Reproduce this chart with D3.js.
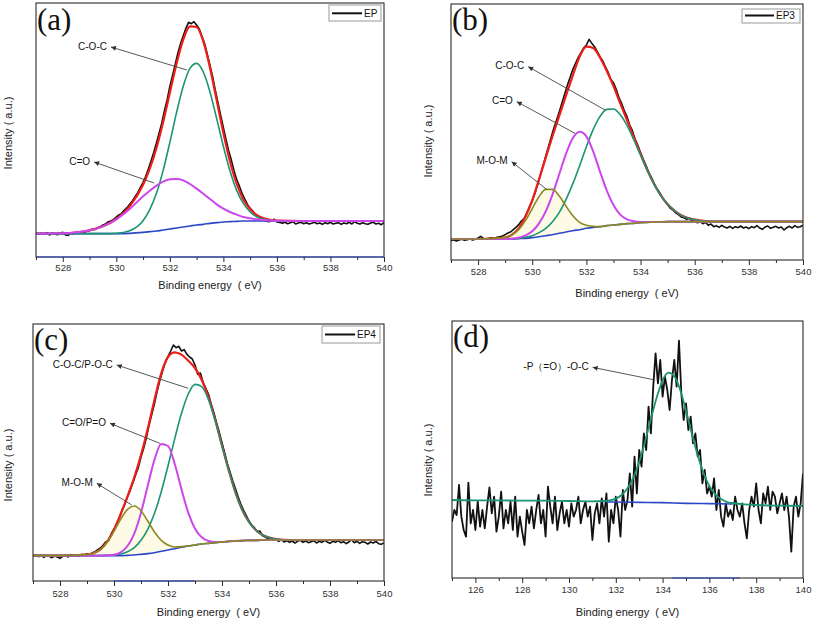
<!DOCTYPE html>
<html><head><meta charset="utf-8">
<script src="https://cdn.jsdelivr.net/npm/d3@7"></script>
<style>
body{margin:0;background:#fff}
svg{display:block}
text{font-family:Arial,"Liberation Sans",Helvetica,sans-serif}
text.letter{font-family:"Liberation Serif","Times New Roman",Times,serif}
</style>
</head><body>
<svg id="chart" width="813" height="619"></svg>
<script>
// ---------------- DATA ----------------
// tick values / labels
const oTicksMajor = [528,530,532,534,536,538,540];
const oTicksMinor = [527,529,531,533,535,537,539];
const pTicksMajor = [126,128,130,132,134,136,138,140];
const pTicksMinor = [125,127,129,131,133,135,137,139];

// Panel (a) EP : O1s fitted curves
const aFitE = [527,528,529,529.5,530,530.5,531,531.25,531.5,531.75,532,532.25,532.5,532.75,533,533.25,533.5,533.75,534,534.25,534.5,534.75,535,535.5,536,537,538,539,540];
const aEnv  = [70,71,80,92,114,152,217,265,327,405,493,580,652,692,690,647,568,470,372,286,219,172,143,116,109,108,108,108,108];
const aCOC  = [70,70,70,70,71,79,109,142,191,260,344,433,512,566,581,555,495,415,332,257,199,160,135,113,108,108,108,108,108];
const aCO   = [70,71,80,92,113,144,182,199,214,226,233,234,230,219,205,190,174,158,145,135,127,120,116,111,109,108,108,108,108];
const aBg   = [70,70,70,70,70,71,74,76,78,81,84,87,90,93,96,98,101,103,105,106,107,108,108,108,108,108,108,108,108];
const aRawStart = 527, aRawStep = 0.1;
const aRaw = [72,68,71,69,73,66,72,70,67,71, 74,66,65,71,69,74,72,76,73,78, 79,84,82,88,91,96,99,106,108,113,
  120,126,131,141,148,158,168,181,193,209, 224,242,265,289,314,342,372,402,440,472, 512,545,578,612,640,664,686,704,700,706,
  696,684,662,640,608,575,540,500,462,425, 388,352,318,290,258,232,212,190,174,158, 146,138,127,122,116,111,108,106,110,113,
  105,104,101,104,100,103,106,99,102,104, 100,103,99,101,104,100,102,98,103,100, 104,99,101,103,98,102,100,104,99,106,
  101,99,103,100,98,102,104,99,101,97, 103];
const aAnnLabels = ["C-O-C","C=O"];
const aAnnFrom = [[532.64,561],[531.41,222]];
const aAnnTo   = [[529.8,630],[529.17,285]];

// Panel (b) EP3
const bFitE = [527,528,529,529.25,529.5,529.75,530,530.25,530.5,530.75,531,531.25,531.5,531.75,532,532.25,532.5,532.75,533,533.25,533.5,533.75,534,534.25,534.5,534.75,535,535.25,535.5,535.75,536,536.5,537,538,539,540];
const bEnv = [63,63,67,76,95,130,179,242,307,372,433,494,554,610,640,636,608,568,522,470,420,369,318,270,228,194,167,148,134,126,121,116,115,115,115,115];
const bCOC = [63,63,63,64,65,68,73,82,95,115,143,182,229,283,340,391,430,452,453,436,404,361,315,269,228,193,167,148,134,126,121,116,115,115,115,115];
const bCO  = [63,63,63,64,67,74,86,110,146,197,258,319,366,385,371,326,266,209,165,136,122,116,114,114,114,114,115,115,115,115,115,115,115,115,115,115];
const bMOM = [63,63,67,75,91,118,154,190,212,212,192,161,133,113,104,101,100,103,105,107,109,110,112,113,114,114,115,115,115,115,115,115,115,115,115,115];
const bBg  = [63,63,63,63,64,65,67,70,73,76,80,84,88,91,95,98,100,103,105,107,109,110,112,113,114,114,115,115,115,115,115,115,115,115,115,115];
const bRawStart = 527, bRawStep = 0.1;
const bRaw = [58,61,57,60,62,59,61,63,60,62, 66,71,64,62,65,67,64,68,70,72, 76,81,84,91,98,106,117,124,141,160,
  178,200,226,254,283,312,340,368,396,420, 445,472,498,525,548,572,590,608,622,636, 645,662,650,640,626,610,598,580,564,542,
  532,512,488,470,448,430,405,388,362,344, 322,302,284,263,248,230,214,203,188,176, 166,155,150,141,136,129,127,122,125,118,
  116,112,115,109,113,104,108,100,103,98, 104,99,96,101,95,100,97,102,96,99, 94,100,97,103,96,92,99,102,95,98,
  101,96,99,90,97,101,96,103,98,100, 104];
const bAnnLabels = ["C-O-C","C=O","M-O-M"];
const bAnnFrom = [[532.69,450],[531.58,380],[530.53,212]];
const bAnnTo   = [[529.85,580],[529.43,475],[529.24,295]];

// Panel (c) EP4
const cFitE = [527,528,529,529.25,529.5,529.75,530,530.25,530.5,530.75,531,531.25,531.5,531.75,532,532.25,532.5,532.75,533,533.25,533.5,533.75,534,534.25,534.5,534.75,535,535.25,535.5,535.75,536,536.5,537,538,539,540];
const cEnv = [76,76,79,84,95,118,154,201,254,311,378,457,544,623,672,686,679,661,639,603,551,483,406,332,265,213,177,153,138,130,126,123,123,123,123,123];
const cCOC = [76,76,76,76,76,77,78,81,88,100,122,155,203,268,345,427,503,561,590,583,544,481,406,332,265,213,177,153,138,130,126,123,123,123,123,123];
const cCO  = [76,76,76,76,76,77,79,86,105,142,205,286,364,411,405,351,275,205,157,131,120,117,117,119,120,121,122,122,123,123,123,123,123,123,123,123];
const cMOM = [76,76,79,84,95,117,149,186,215,225,211,180,147,122,108,102,103,105,108,111,113,115,117,119,120,121,122,122,123,123,123,123,123,123,123,123];
const cBg  = [76,76,76,76,76,76,76,76,77,78,80,82,85,89,93,97,101,105,108,111,113,115,117,119,120,121,122,122,123,123,123,123,123,123,123,123];
const cRawStart = 527, cRawStep = 0.1;
const cRaw = [75,78,73,77,71,76,74,70,75,72, 68,74,77,72,79,75,78,74,80,78, 82,79,85,88,94,99,108,118,121,142,
  156,172,190,214,230,252,272,295,318,340, 372,398,430,468,500,532,570,602,630,656, 674,690,708,700,704,690,694,680,672,666,
  648,620,624,596,578,560,530,505,474,446, 415,384,352,326,300,276,252,230,212,196, 180,168,160,148,150,136,132,127,130,122,
  125,119,124,117,121,116,120,114,119,122, 116,120,115,118,121,114,119,116,122,117, 113,119,116,121,115,118,112,117,124,115,
  119,113,118,116,111,117,114,119,112,110, 115];
const cAnnLabels = ["C-O-C/P-O-C","C=O/P=O","M-O-M"];
const cAnnFrom = [[532.75,578],[531.7,413],[530.66,228]];
const cAnnTo   = [[530.1,648],[529.85,473],[529.36,293]];

// Panel (d) P2p
const dFitE = [125,126,127,128,129,130,131,131.5,131.75,132,132.25,132.5,132.75,133,133.25,133.5,133.75,134,134.25,134.5,134.75,135,135.25,135.5,135.75,136,136.25,136.5,136.75,137,137.5,138,139,140];
const dFit  = [234,233,233,232,232,231,230,231,233,238,249,269,301,348,409,477,542,593,616,605,565,502,433,368,315,276,251,237,228,225,221,219,217,216];
const dBgE  = [131.6,132,133,134,135,136,137];
const dBg   = [228,228,227,226,224,223,222];
const dRawStart = 125, dRawStep = 0.1;
const dRaw = [169,204,189,279,184,144,124,286,164,204, 144,229,154,204,149,214,272,194,244,139,
  184,259,149,204,164,229,144,244,124,184, 139,99,204,164,214,149,204,249,164,204,
  124,274,214,164,244,144,194,229,164,204, 154,224,184,204,244,164,204,229,184,214,
  114,194,224,164,239,184,254,109,204,164, 244,204,124,264,204,234,314,214,364,254,
  384,334,434,384,514,434,574,674,584,654, 544,604,564,504,594,654,574,712,554,474,
  524,444,484,404,434,364,384,284,324,254, 274,244,299,204,264,184,154,224,184,204,
  174,244,204,184,224,164,119,204,244,214, 284,204,164,254,224,274,204,259,244,194,
  224,254,204,244,184,79,214,244,184,224, 314];
const dAnnLabels = ["-P\uFF08=O\uFF09-O-C"];
const dAnnFrom = [[133.68,594]];
const dAnnTo   = [[131.01,632]];

// ---------------- STYLE ----------------
const RED = "#ef1d18", GREEN = "#1a9474", MAG = "#cc46ec", BLUE = "#2c47c6", OLIVE = "#8a8a20", RAW = "#111";

const zip = (xs, ys) => xs.map((x, i) => [x, ys[i]]);
const rawPts = (start, step, ys) => ys.map((v, i) => [start + i * step, v]);

const panels = [
  {frame:{l:36,t:3,r:384,b:257}, xDom:[527,540], yDom:[0,762], major:oTicksMajor, minor:oTicksMinor,
   letter:"(a)", letterPos:[37,30], ylab:[12,133], xlabDy:32, tickDy:16,
   legend:{label:"EP", box:[329,5,381,21], line:[332,362,13.3], tx:364},
   curves:[{d:zip(aFitE,aEnv),c:RED,w:2.2},{d:zip(aFitE,aBg),c:BLUE,w:1.6},{d:zip(aFitE,aCOC),c:GREEN,w:1.6},{d:zip(aFitE,aCO),c:MAG,w:2}],
   raw:rawPts(aRawStart,aRawStep,aRaw), ann:{l:aAnnLabels,f:aAnnFrom,t:aAnnTo}, axisBlue:[527,540]},
  {frame:{l:451,t:4,r:803,b:260}, xDom:[527,540], yDom:[0,768], major:oTicksMajor, minor:oTicksMinor,
   letter:"(b)", letterPos:[452,30], ylab:[432,141], xlabDy:37, tickDy:17,
   legend:{label:"EP3", box:[742,9,800,23], line:[745,774,15.5], tx:776},
   curves:[{d:zip(bFitE,bEnv),c:RED,w:2.2},{d:zip(bFitE,bBg),c:BLUE,w:1.6},{d:zip(bFitE,bCOC),c:GREEN,w:1.6},{d:zip(bFitE,bCO),c:MAG,w:2},{d:zip(bFitE,bMOM),c:OLIVE,w:1.6,fill:zip(bFitE,bBg)}],
   raw:rawPts(bRawStart,bRawStep,bRaw), ann:{l:bAnnLabels,f:bAnnFrom,t:bAnnTo}, axisBlue:null},
  {frame:{l:33,t:324,r:384,b:581}, xDom:[527,540], yDom:[0,771], major:oTicksMajor, minor:oTicksMinor,
   letter:"(c)", letterPos:[34,350], ylab:[12,465], xlabDy:35, tickDy:18,
   legend:{label:"EP4", box:[322,326,380,343], line:[325,355,334.5], tx:357},
   curves:[{d:zip(cFitE,cEnv),c:RED,w:2.2},{d:zip(cFitE,cBg),c:BLUE,w:1.6},{d:zip(cFitE,cCOC),c:GREEN,w:1.6},{d:zip(cFitE,cCO),c:MAG,w:2},{d:zip(cFitE,cMOM),c:OLIVE,w:1.6,fill:zip(cFitE,cBg)}],
   raw:rawPts(cRawStart,cRawStep,cRaw), ann:{l:cAnnLabels,f:cAnnFrom,t:cAnnTo}, axisBlue:[530,533]},
  {frame:{l:452,t:321,r:803,b:578}, xDom:[125,140], yDom:[0,771], major:pTicksMajor, minor:pTicksMinor,
   letter:"(d)", letterPos:[453,347], ylab:[432,460], xlabDy:38, tickDy:17,
   legend:null,
   curves:[{d:zip(dBgE,dBg),c:BLUE,w:1.6},{d:zip(dFitE,dFit),c:GREEN,w:1.8}],
   raw:rawPts(dRawStart,dRawStep,dRaw), rawW:1.8, ann:{l:dAnnLabels,f:dAnnFrom,t:dAnnTo}, axisBlue:[134.4,137.3]}
];

// ---------------- DRAW ----------------
const svg = d3.select("#chart");
const defs = svg.append("defs");
defs.append("marker").attr("id","ah").attr("viewBox","0 0 10 10")
  .attr("refX",10).attr("refY",5).attr("markerWidth",8).attr("markerHeight",5)
  .attr("markerUnits","userSpaceOnUse").attr("orient","auto")
  .append("path").attr("d","M0,0 L10,5 L0,10 Z").attr("fill","#333");

panels.forEach((p, i) => {
  const f = p.frame;
  const x = d3.scaleLinear().domain(p.xDom).range([f.l, f.r]);
  const y = d3.scaleLinear().domain(p.yDom).range([f.b, f.t]);
  const g = svg.append("g");
  const cid = "clip" + i;
  defs.append("clipPath").attr("id", cid).append("rect")
    .attr("x", f.l).attr("y", f.t).attr("width", f.r - f.l).attr("height", f.b - f.t);
  const plot = g.append("g").attr("clip-path", `url(#${cid})`);

  const line = d3.line().x(d => x(d[0])).y(d => y(d[1]));
  const smooth = d3.line().x(d => x(d[0])).y(d => y(d[1])).curve(d3.curveMonotoneX);

  // pale fill under the olive component
  p.curves.filter(c => c.fill).forEach(c => {
    const area = d3.area().x(d => x(d[0])).y0((d, k) => y(c.fill[k][1])).y1(d => y(d[1])).curve(d3.curveMonotoneX);
    plot.append("path").datum(c.d).attr("d", area).attr("fill", "#fbf6d2").attr("opacity", 0.55);
  });

  // raw spectrum
  plot.append("path").datum(p.raw).attr("d", line)
    .attr("fill","none").attr("stroke",RAW).attr("stroke-width",p.rawW || 1.6).attr("stroke-linejoin","round");

  // fitted curves
  p.curves.forEach(c => {
    plot.append("path").datum(c.d).attr("d", smooth)
      .attr("fill","none").attr("stroke",c.c).attr("stroke-width",c.w);
  });

  // frame
  g.append("rect").attr("x", f.l).attr("y", f.t).attr("width", f.r - f.l).attr("height", f.b - f.t)
    .attr("fill","none").attr("stroke","#2a2a2a").attr("stroke-width",1.1);
  if (p.axisBlue) {
    g.append("line").attr("x1", x(p.axisBlue[0])).attr("x2", x(p.axisBlue[1]))
      .attr("y1", f.b).attr("y2", f.b).attr("stroke", BLUE).attr("stroke-width", 1.1);
  }

  // axes
  const axMaj = d3.axisBottom(x).tickValues(p.major).tickSize(5).tickSizeOuter(0).tickFormat(d3.format("d"));
  const axMin = d3.axisBottom(x).tickValues(p.minor).tickSize(3).tickSizeOuter(0).tickFormat("");
  [axMin, axMaj].forEach(ax => {
    const a = g.append("g").attr("transform", `translate(0,${f.b})`).call(ax);
    a.select(".domain").remove();
    a.selectAll(".tick line").attr("stroke","#2a2a2a");
    a.selectAll(".tick text").attr("fill","#333").attr("font-size","9.5px").attr("y", p.tickDy - 9).attr("dy","0.71em");
  });

  // axis titles
  g.append("text").attr("x", (f.l + f.r) / 2).attr("y", f.b + p.xlabDy)
    .attr("text-anchor","middle").attr("font-size","11px").attr("fill","#222")
    .style("white-space","pre").text("Binding energy  ( eV)");
  g.append("text").attr("transform", `translate(${p.ylab[0]},${p.ylab[1]}) rotate(-90)`)
    .attr("text-anchor","middle").attr("font-size","11px").attr("fill","#222")
    .style("white-space","pre").text("Intensity ( a.u.)");

  // panel letter
  g.append("text").attr("class","letter").attr("x", p.letterPos[0]).attr("y", p.letterPos[1])
    .attr("font-size","31px").attr("fill","#111").text(p.letter);

  // legend
  if (p.legend) {
    const L = p.legend;
    g.append("rect").attr("x", L.box[0]).attr("y", L.box[1]).attr("width", L.box[2]-L.box[0]).attr("height", L.box[3]-L.box[1])
      .attr("fill","#fff").attr("stroke","#9a9a9a").attr("stroke-width",1);
    g.append("line").attr("x1", L.line[0]).attr("x2", L.line[1]).attr("y1", L.line[2]).attr("y2", L.line[2])
      .attr("stroke","#111").attr("stroke-width",2);
    g.append("text").attr("x", L.tx).attr("y", L.line[2] + 3.6).attr("font-size","10px").attr("fill","#111").text(L.label);
  }

  // annotations
  p.ann.l.forEach((lab, k) => {
    const fr = p.ann.f[k], to = p.ann.t[k];
    g.append("line").attr("x1", x(fr[0])).attr("y1", y(fr[1])).attr("x2", x(to[0])).attr("y2", y(to[1]))
      .attr("stroke","#444").attr("stroke-width",0.9).attr("marker-end","url(#ah)");
    g.append("text").attr("x", x(to[0]) - 4).attr("y", y(to[1]) + 2.5)
      .attr("text-anchor","end").attr("font-size","10px").attr("fill","#111").text(lab);
  });
});
</script>
</body></html>
